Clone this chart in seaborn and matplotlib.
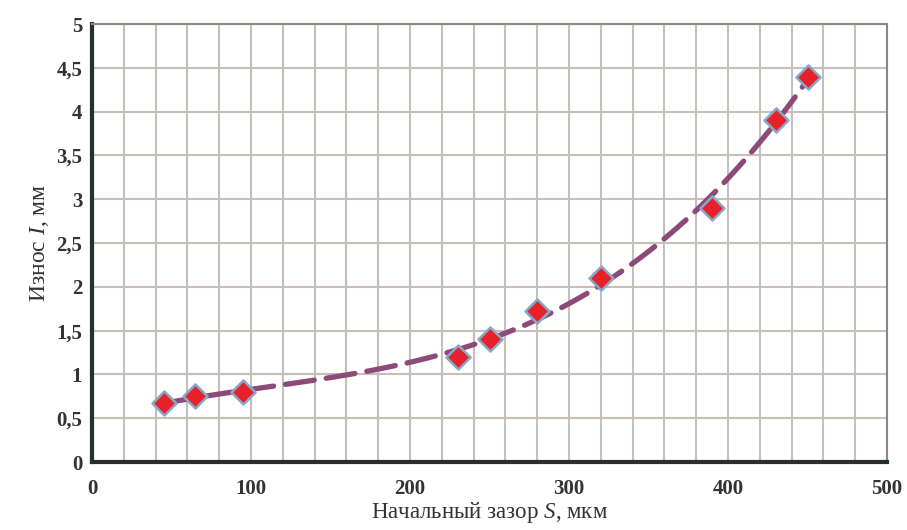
import numpy as np
import pandas as pd
import seaborn as sns
import matplotlib.pyplot as plt
from matplotlib.ticker import MultipleLocator, FixedLocator

# data
gap_um = [45, 65, 95, 230, 250, 280, 320, 390, 430, 450]
wear_mm = [0.67, 0.75, 0.80, 1.20, 1.40, 1.72, 2.10, 2.90, 3.90, 4.40]
x_ticks = [0, 100, 200, 300, 400, 500]
y_ticks = [0, 0.5, 1, 1.5, 2, 2.5, 3, 3.5, 4, 4.5, 5]
y_labels = ["0", "0,5", "1", "1,5", "2", "2,5", "3", "3,5", "4", "4,5", "5"]

df = pd.DataFrame({"S": gap_um, "I": wear_mm})

sns.set_style("white")
plt.rcParams["font.family"] = ["Liberation Serif", "DejaVu Serif"]
plt.rcParams["mathtext.fontset"] = "custom"
plt.rcParams["mathtext.it"] = "Liberation Serif:italic"
plt.rcParams["mathtext.rm"] = "Liberation Serif"

fig = plt.figure(figsize=(9.07, 5.30), dpi=100)
ax = fig.add_axes([0.1014, 0.1283, 0.8766, 0.8264])

# trend line (polynomial fit), dashed
sns.regplot(data=df, x="S", y="I", order=3, ci=None, scatter=False, ax=ax,
            line_kws=dict(color="#8c4a78", lw=3.8, dashes=(5.5, 2.3),
                          solid_capstyle="round", dash_capstyle="round", zorder=3))

sns.scatterplot(data=df, x="S", y="I", marker="D", s=150, color="#e8202a",
                edgecolor="#86a9c8", linewidth=1.8, ax=ax, zorder=4)

ax.set_xlim(0, 500)
ax.set_ylim(0, 5)
ax.xaxis.set_major_locator(FixedLocator(x_ticks))
ax.xaxis.set_minor_locator(MultipleLocator(20))
ax.yaxis.set_major_locator(FixedLocator(y_ticks))
ax.set_yticklabels(y_labels)
ax.set_xticklabels([str(v) for v in x_ticks])

ax.grid(True, which="both", color="#c9bdb9", lw=1.5)
ax.set_axisbelow(True)
ax.tick_params(axis="both", which="major", direction="out", length=5, width=2.5,
               color="#25302d", labelsize=15)
ax.tick_params(axis="both", which="minor", length=0)
for t in ax.get_xticklabels() + ax.get_yticklabels():
    t.set_fontweight("bold")
    t.set_color("#333333")
ax.tick_params(axis="x", pad=7)
ax.tick_params(axis="y", pad=2)

for side in ["left", "bottom"]:
    ax.spines[side].set_color("#25302d")
    ax.spines[side].set_linewidth(3)
for side in ["top", "right"]:
    ax.spines[side].set_color("#8d8783")
    ax.spines[side].set_linewidth(1.5)
    ax.spines[side].set_visible(True)

ax.set_xlabel("Начальный зазор $S$, мкм", fontsize=16.5, color="#333333", labelpad=1)
ax.set_ylabel("Износ $I$, мм", fontsize=17, color="#333333", labelpad=4)

plt.savefig("out.png", dpi=100)
